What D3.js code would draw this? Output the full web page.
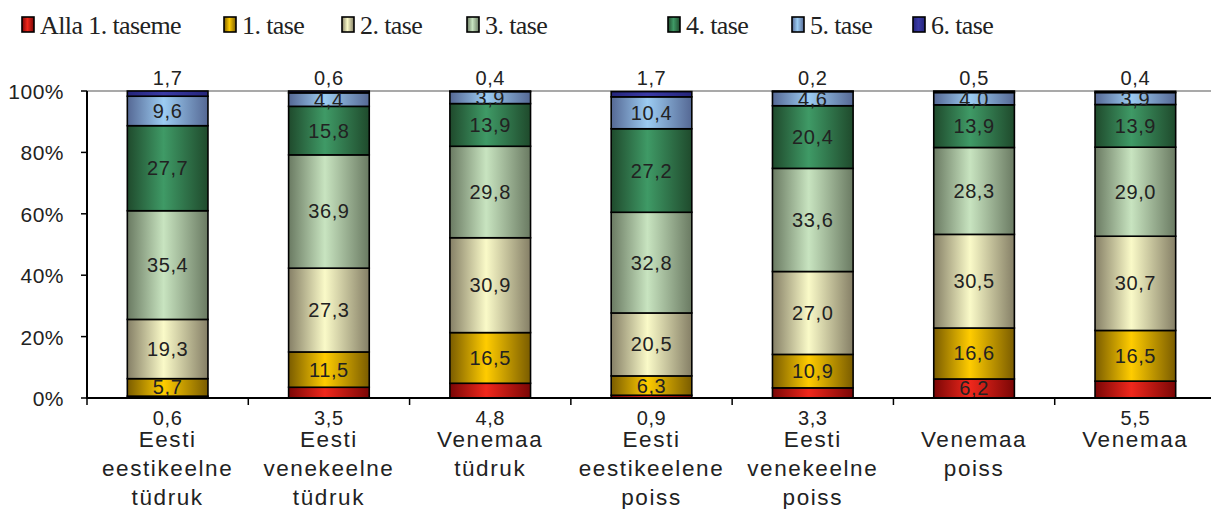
<!DOCTYPE html>
<html><head><meta charset="utf-8">
<script src="https://cdn.jsdelivr.net/npm/d3@7/dist/d3.min.js"></script>
<style>body{margin:0;background:#fff;}svg{display:block;}</style>
</head><body>
<svg id="chart" width="1211" height="509"></svg>
<script>
const categories = [
  ["Eesti","eestikeelne","tüdruk"],
  ["Eesti","venekeelne","tüdruk"],
  ["Venemaa","tüdruk"],
  ["Eesti","eestikeelene","poiss"],
  ["Eesti","venekeelne","poiss"],
  ["Venemaa","poiss"],
  ["Venemaa"]
];
const seriesNames = ["Alla 1. taseme","1. tase","2. tase","3. tase","4. tase","5. tase","6. tase"];
const alla1 = [0.6, 3.5, 4.8, 0.9, 3.3, 6.2, 5.5];
const tase1 = [5.7, 11.5, 16.5, 6.3, 10.9, 16.6, 16.5];
const tase2 = [19.3, 27.3, 30.9, 20.5, 27.0, 30.5, 30.7];
const tase3 = [35.4, 36.9, 29.8, 32.8, 33.6, 28.3, 29.0];
const tase4 = [27.7, 15.8, 13.9, 27.2, 20.4, 13.9, 13.9];
const tase5 = [9.6, 4.4, 3.9, 10.4, 4.6, 4.0, 3.9];
const tase6 = [1.7, 0.6, 0.4, 1.7, 0.2, 0.5, 0.4];
const yTicks = [0, 20, 40, 60, 80, 100];

const seriesValues = [alla1, tase1, tase2, tase3, tase4, tase5, tase6];
const palette = [
  ["#7a0606", "#f0281c"],
  ["#7a5c00", "#ffcc00"],
  ["#857f66", "#fafac8"],
  ["#6a7a62", "#c8e4c0"],
  ["#1f4a2c", "#3f9a66"],
  ["#556894", "#9cccf2"],
  ["#25257a", "#3a3aa6"]
];

const svg = d3.select("#chart");
const defs = svg.append("defs");
palette.forEach((c, i) => {
  const g = defs.append("linearGradient").attr("id", "g" + i)
    .attr("x1", "0%").attr("x2", "100%").attr("y1", "0%").attr("y2", "0%");
  g.append("stop").attr("offset", "0%").attr("stop-color", c[0]);
  g.append("stop").attr("offset", "45%").attr("stop-color", c[1]);
  g.append("stop").attr("offset", "100%").attr("stop-color", c[0]);
});

const x0 = 87, x1 = 1216;
const x = d3.scaleBand().domain(d3.range(categories.length)).range([x0, x1])
  .paddingInner(0.5).paddingOuter(0.25);
const y = d3.scaleLinear().domain([0, 100]).range([398, 91]);

svg.append("line").attr("x1", x0).attr("x2", 1211).attr("y1", y(100)).attr("y2", y(100))
  .attr("stroke", "#8c8c8c").attr("stroke-width", 1.5);

const rows = categories.map((c, i) => {
  const r = { i };
  seriesNames.forEach((s, k) => r[s] = seriesValues[k][i]);
  return r;
});
const stack = d3.stack().keys(seriesNames)(rows);

stack.forEach((layer, k) => {
  svg.append("g").selectAll("rect").data(layer).join("rect")
    .attr("x", d => x(d.data.i))
    .attr("width", x.bandwidth())
    .attr("y", d => y(Math.min(d[1], 100)))
    .attr("height", d => Math.max(0, y(d[0]) - y(Math.min(d[1], 100))))
    .attr("fill", `url(#g${k})`)
    .attr("stroke", "#000").attr("stroke-width", 1.6);
});

const fmt = v => v.toFixed(1).replace(".", ",");
const lab = svg.append("g").attr("font-family", "Liberation Sans, Arial, sans-serif")
  .attr("font-size", 20).attr("fill", "#222").attr("text-anchor", "middle")
  .attr("letter-spacing", 0.6);
stack.forEach((layer, k) => {
  layer.forEach(d => {
    const v = d[1] - d[0];
    const cx = x(d.data.i) + x.bandwidth() / 2;
    let yy;
    if (k === 6) {
      yy = y(100) - 6;
    } else if (k === 0 && v < 6) {
      yy = y(0) + 27;
    } else {
      yy = (y(d[0]) + y(Math.min(d[1], 100))) / 2 + 7;
    }
    lab.append("text").attr("x", cx).attr("y", yy).text(fmt(seriesValues[k][d.data.i]));
  });
});

svg.append("line").attr("x1", x0).attr("x2", x0).attr("y1", y(100)).attr("y2", y(0) + 1)
  .attr("stroke", "#000").attr("stroke-width", 2);
svg.append("line").attr("x1", x0 - 1).attr("x2", 1211).attr("y1", y(0)).attr("y2", y(0))
  .attr("stroke", "#000").attr("stroke-width", 2.2);

const yAxis = svg.append("g");
yTicks.forEach(t => {
  yAxis.append("line").attr("x1", x0 - 6).attr("x2", x0).attr("y1", y(t)).attr("y2", y(t))
    .attr("stroke", "#000").attr("stroke-width", 1.5);
  yAxis.append("text").attr("x", 64).attr("y", y(t) + 8).attr("text-anchor", "end")
    .attr("font-family", "Liberation Sans, Arial, sans-serif").attr("font-size", 21)
    .attr("letter-spacing", 0.5).attr("fill", "#222").text(t + "%");
});

const step = x.step();
categories.forEach((c, i) => {
  const tx = x(i) - step * 0.25;
  svg.append("line").attr("x1", tx).attr("x2", tx).attr("y1", y(0)).attr("y2", y(0) + 7)
    .attr("stroke", "#000").attr("stroke-width", 1.5);
});

const cat = svg.append("g").attr("font-family", "Liberation Sans, Arial, sans-serif")
  .attr("font-size", 22.5).attr("fill", "#222").attr("text-anchor", "middle")
  .attr("letter-spacing", 1.6);
categories.forEach((lines, i) => {
  const cx = x(i) + x.bandwidth() / 2;
  lines.forEach((l, j) => {
    cat.append("text").attr("x", cx).attr("y", 447 + j * 29).text(l);
  });
});

const legendX = [22, 224, 342, 467, 668, 792, 913];
const leg = svg.append("g");
seriesNames.forEach((s, k) => {
  leg.append("rect").attr("x", legendX[k]).attr("y", 17).attr("width", 12).attr("height", 15)
    .attr("fill", `url(#g${k})`).attr("stroke", "#000").attr("stroke-width", 1.6);
  leg.append("text").attr("x", legendX[k] + 18).attr("y", 34)
    .attr("font-family", "Liberation Serif, Times New Roman, serif").attr("font-size", 26)
    .attr("letter-spacing", -0.6)
    .attr("fill", "#222").text(s);
});
</script>
</body></html>
